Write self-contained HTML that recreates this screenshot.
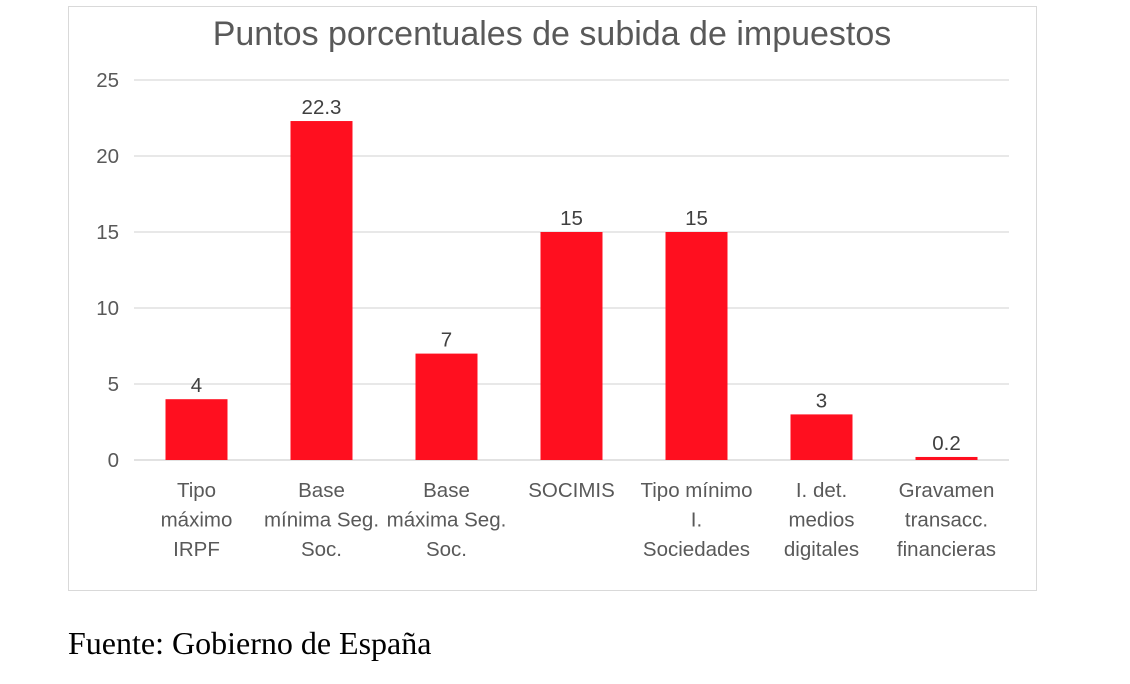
<!DOCTYPE html>
<html><head><meta charset="utf-8"><style>
body{margin:0;background:#fff;width:1130px;height:684px;overflow:hidden}
svg{position:absolute;left:0;top:0}
</style></head><body>
<svg width="1130" height="684" font-family="Liberation Sans, sans-serif">
<rect x="68.5" y="6.5" width="968" height="584" fill="#fff" stroke="#d9d9d9"/>
<text x="552" y="45" text-anchor="middle" font-size="34" fill="#595959">Puntos porcentuales de subida de impuestos</text>
<g id="grid"></g><g id="bars"></g><g id="labels"></g>
<text x="68" y="654" font-family="Liberation Serif, serif" font-size="32" fill="#000">Fuente: Gobierno de España</text>
</svg>
<script>
const categories=[["Tipo","máximo","IRPF"],["Base","mínima Seg.","Soc."],["Base","máxima Seg.","Soc."],["SOCIMIS"],["Tipo mínimo","I.","Sociedades"],["I. det.","medios","digitales"],["Gravamen","transacc.","financieras"]];
const values=[4,22.3,7,15,15,3,0.2];
const valueLabels=["4","22.3","7","15","15","3","0.2"];
const yTicks=[0,5,10,15,20,25];
const NS="http://www.w3.org/2000/svg";
const x0=134,x1=1009,y0=460,yTop=80,yMax=25;
const bw=(x1-x0)/categories.length;
const y=v=>y0-(v/yMax)*(y0-yTop);
function mk(t,a,p,txt){const e=document.createElementNS(NS,t);for(const k in a)e.setAttribute(k,a[k]);if(txt!==undefined)e.textContent=txt;document.getElementById(p).appendChild(e);return e;}
yTicks.forEach(t=>{
 const l=mk('line',{x1:x0,x2:x1,y1:y(t),y2:y(t),stroke:t===0?'#d0d0d0':'#d9d9d9','stroke-width':1.3},'grid');
 
 
 const tx=mk('text',{x:119,y:y(t)+7,'text-anchor':'end','font-size':20.5,fill:'#595959'},'grid',String(t));
 
 
});
values.forEach((v,i)=>{
 const cx=x0+bw*(i+0.5);
 const r=mk('rect',{x:cx-31,y:y(v),width:62,height:y0-y(v),fill:'#ff0f1f'},'bars');
 
 
 const vl=mk('text',{x:cx,y:y(v)-7,'text-anchor':'middle','font-size':20.5,fill:'#404040'},'labels',valueLabels[i]);
 
 
 categories[i].forEach((line,j)=>{
  const c=mk('text',{x:cx,y:497+j*29.5,'text-anchor':'middle','font-size':20.5,fill:'#595959'},'labels',line);
  
  
 });
});
</script>
</body></html>
